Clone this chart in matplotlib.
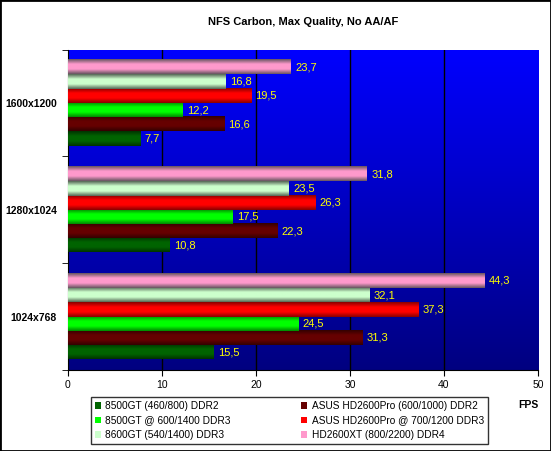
import numpy as np
import matplotlib.pyplot as plt
from matplotlib.colors import LinearSegmentedColormap
from matplotlib.patches import Patch

plt.rcParams["font.family"] = ["Liberation Sans", "DejaVu Sans"]

resolutions = ["1024x768", "1280x1024", "1600x1200"]
series = [
    "8500GT (460/800) DDR2",
    "ASUS HD2600Pro (600/1000) DDR2",
    "8500GT @ 600/1400 DDR3",
    "ASUS HD2600Pro @ 700/1200 DDR3",
    "8600GT (540/1400) DDR3",
    "HD2600XT (800/2200) DDR4",
]
fps = [
    [15.5, 10.8, 7.7],
    [31.3, 22.3, 16.6],
    [24.5, 17.5, 12.2],
    [37.3, 26.3, 19.5],
    [32.1, 23.5, 16.8],
    [44.3, 31.8, 23.7],
]
colors = ["#006400", "#660000", "#00ff00", "#ff0000", "#ccffcc", "#ff99cc"]
edge_colors = ["#003300", "#330000", "#008800", "#880000", "#556655", "#665560"]

fig = plt.figure(figsize=(5.51, 4.51), dpi=100)
ax = fig.add_axes([0.1234, 0.1796, 0.853, 0.7106])

# gradient background
bg = LinearSegmentedColormap.from_list("bg", ["#000080", "#0000ff"])
ax.imshow(np.linspace(0, 1, 256).reshape(-1, 1), cmap=bg, origin="lower",
          extent=[0, 50, -0.5, 2.5], aspect="auto", zorder=0)

group = 0.80
h = group / len(series)
y = np.arange(len(resolutions))

for i, (name, vals) in enumerate(zip(series, fps)):
    offs = y - group / 2 + h * (i + 0.5)
    bars = ax.barh(offs, vals, height=h, color=colors[i], zorder=3)
    cm = LinearSegmentedColormap.from_list(
        f"s{i}", [edge_colors[i], colors[i], colors[i], edge_colors[i]])
    grad = np.linspace(0, 1, 64).reshape(-1, 1)
    for b, v in zip(bars, vals):
        ax.imshow(grad, cmap=cm, aspect="auto", zorder=4,
                  extent=[b.get_x(), b.get_x() + b.get_width(),
                          b.get_y(), b.get_y() + b.get_height()])
        ax.text(v + 0.45, b.get_y() + b.get_height() / 2,
                f"{v:.1f}".replace(".", ","), color="#ffff00",
                fontsize=8, va="center", ha="left", zorder=5)

ax.set_xlim(0, 50)
ax.set_ylim(-0.5, 2.5)
ax.set_xticks(range(0, 51, 10))
ax.set_yticks(y)
ax.set_yticklabels(resolutions, fontsize=7.5, fontweight="bold")
ax.set_yticks([-0.5, 0.5, 1.5, 2.5], minor=True)
ax.tick_params(axis="y", which="major", length=0, pad=8)
ax.tick_params(axis="y", which="minor", length=4, direction="out")
ax.tick_params(axis="x", labelsize=7.5, length=4, direction="out")
for x in range(10, 50, 10):
    ax.axvline(x, color="black", linewidth=1, zorder=1)
for side in ["top", "right"]:
    ax.spines[side].set_visible(False)

ax.set_title("NFS Carbon, Max Quality, No AA/AF", fontsize=8,
             fontweight="bold", pad=18)
fig.text(0.94, 0.101, "FPS", fontsize=7.5, fontweight="bold",
         ha="left", va="center")

handles = [Patch(facecolor=c) for c in colors]
order = [0, 2, 4, 1, 3, 5]
leg = fig.legend([handles[k] for k in order], [series[k] for k in order],
                 ncol=2, loc="center", bbox_to_anchor=(0.525, 0.0676),
                 fontsize=7.3, frameon=True, fancybox=False,
                 edgecolor="black", handlelength=0.6, handleheight=0.6,
                 handletextpad=0.4, columnspacing=7, labelspacing=0.45,
                 borderpad=0.4)
leg.get_frame().set_linewidth(1)

fig.patches.append(plt.Rectangle((0, 0), 1, 1, transform=fig.transFigure,
                                 fill=False, edgecolor="black", linewidth=2))

fig.savefig("out.png", dpi=100)
